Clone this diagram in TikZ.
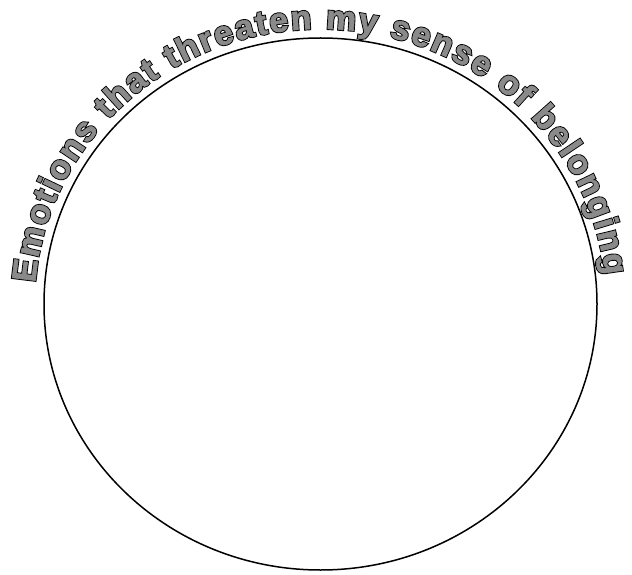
\documentclass[tikz,border=0pt]{standalone}
\usepackage{fontspec}
\usetikzlibrary{decorations.text, calc}
\newfontfamily\ringfont[FakeBold=1.6]{Liberation Sans Bold}
\newfontfamily\ringedge[FakeBold=7]{Liberation Sans Bold}
\definecolor{ringgray}{HTML}{8A8A8A}

\begin{document}
\begin{tikzpicture}[x=1pt, y=1pt]
  \useasboundingbox (0,0) rectangle (632,574);
  \coordinate (c) at (320.5,270);
  % the circle
  \draw[line width=1.5pt] (c) ellipse[x radius=276.5, y radius=266];
  % title round the top: black edge first, grey face on top
  \foreach \fnt/\col in {\ringedge/black, \ringfont/ringgray}
    \path[decorate, decoration={text along path, text align={fit to path},
        text={|\fnt\fontsize{34}{34}\selectfont\color{\col}|Emotions that threaten my sense of belonging}}]
      ($(c)+(175.6:286 and 275)$) arc[start angle=175.6, end angle=6, x radius=286, y radius=275];
\end{tikzpicture}
\end{document}
